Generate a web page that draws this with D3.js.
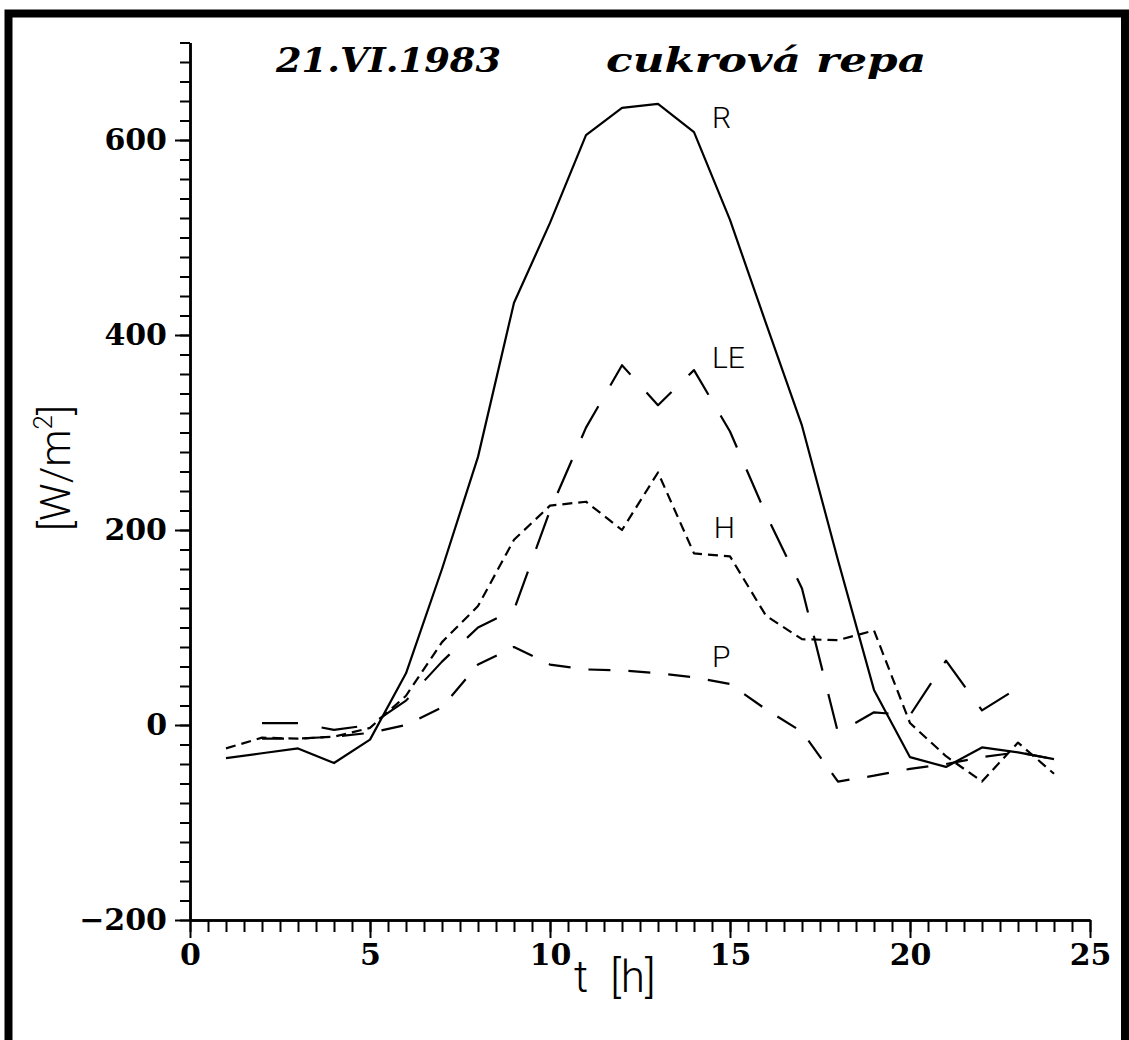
<!DOCTYPE html>
<html>
<head>
<meta charset="utf-8">
<script src="https://cdn.jsdelivr.net/npm/d3@7"></script>
<style>
  body { margin: 0; background: #fff; }
  .tick-label { font-family: "DejaVu Serif", serif; font-weight: bold; font-size: 30px; }
  .title { font-family: "DejaVu Serif", serif; font-weight: bold; font-style: italic; font-size: 34px; }
  .axis-label, .series-label { font-family: Roboto, "DejaVu Sans", sans-serif; font-weight: 300; }
</style>
</head>
<body>
<div id="chart"></div>
<script>
// hours 1..24
const hours = d3.range(1, 25);

// energy balance components [W/m2]
const R  = [-34, -29, -24, -39, -15, 53, 160, 275, 433, 515, 605, 633, 637, 608, 518, 412, 307, 169, 36, -33, -43, -23, -28, -35];
const LE = [null, 2, 2, -5, 0, 25, 65, 100, 118, 220, 305, 369, 328, 364, 301, 216, 140, -8, 13, 10, 66, 15, 38, null];
const H  = [-24, -13, -14, -12, -3, 30, 85, 122, 190, 225, 229, 200, 259, 176, 173, 112, 88, 87, 97, 2, -32, -58, -18, -50];
const P  = [null, -14, -14, -12, -8, 0, 18, 62, 80, 62, 57, 56, 53, 49, 42, 16, -7, -58, -52, -45, -40, -33, -28, -35];

const seriesNames = ["R", "LE", "H", "P"];
const seriesValues = [R, LE, H, P];
const seriesDash = [null, "36,24", "10,6", "22,18"];

// where the series names are written (t, value)
const labelT = [14.5, 14.5, 14.55, 14.5];
const labelV = [612, 366, 192, 59];

const yTickLabels = [-200, 0, 200, 400, 600];
const xTickLabels = [0, 5, 10, 15, 20, 25];

const width = 1129, height = 1040;

const svg = d3.select("#chart").append("svg")
    .attr("width", width)
    .attr("height", height);

svg.append("rect").attr("width", width).attr("height", height).attr("fill", "#fff");

// thick frame of the scanned page
svg.append("path")
    .attr("d", "M8.5,1040 V13.5 H1125 V1040")
    .attr("fill", "none")
    .attr("stroke", "#000")
    .attr("stroke-width", 8);

const x = d3.scaleLinear().domain([0, 25]).range([190, 1090]);
const y = d3.scaleLinear().domain([-200, 700]).range([920, 42.5]);

// y axis: minor ticks every 20, major (labelled) every 200
const yMinor = svg.append("g")
    .attr("transform", `translate(${x(0)},0)`)
    .call(d3.axisLeft(y).tickValues(d3.range(-200, 701, 20)).tickSize(10).tickSizeOuter(0).tickFormat(""));

const yMajor = svg.append("g")
    .attr("transform", `translate(${x(0)},0)`)
    .call(d3.axisLeft(y).tickValues(yTickLabels).tickSize(15).tickSizeOuter(0).tickPadding(8));

yMajor.selectAll("text").attr("class", "tick-label").attr("font-size", null).attr("font-family", null);

// x axis: minor ticks every half hour, major every 5 h
const xMinor = svg.append("g")
    .attr("transform", `translate(0,${y(-200)})`)
    .call(d3.axisBottom(x).tickValues(d3.range(0, 25.01, 0.5)).tickSize(12).tickSizeOuter(0).tickFormat(""));

const xMajor = svg.append("g")
    .attr("transform", `translate(0,${y(-200)})`)
    .call(d3.axisBottom(x).tickValues(xTickLabels).tickSize(18).tickSizeOuter(0).tickPadding(6));

xMajor.selectAll("text").attr("class", "tick-label").attr("font-size", null).attr("font-family", null);

[yMinor, yMajor, xMinor, xMajor].forEach(g => {
    g.selectAll("path.domain").attr("stroke", "#000").attr("stroke-width", 2.5);
    g.selectAll(".tick line").attr("stroke", "#000").attr("stroke-width", 2);
    g.selectAll("text").attr("fill", "#000");
});

// series lines
const line = d3.line()
    .defined(d => d.v !== null)
    .x(d => x(d.t))
    .y(d => y(d.v));

seriesValues.forEach((vals, i) => {
    const pts = hours.map((t, j) => ({ t: t, v: vals[j] }));
    svg.append("path")
        .datum(pts)
        .attr("fill", "none")
        .attr("stroke", "#000")
        .attr("stroke-width", 2.2)
        .attr("stroke-linejoin", "round")
        .attr("stroke-dasharray", seriesDash[i])
        .attr("d", line);

    svg.append("text")
        .attr("class", "series-label")
        .attr("x", x(labelT[i]))
        .attr("y", y(labelV[i]))
        .attr("font-size", 30)
        .text(seriesNames[i]);
});

// titles
svg.append("text")
    .attr("class", "title")
    .attr("x", 276)
    .attr("y", 72)
    .attr("textLength", 225)
    .attr("lengthAdjust", "spacingAndGlyphs")
    .text("21.VI.1983");

svg.append("text")
    .attr("class", "title")
    .attr("x", 606)
    .attr("y", 72)
    .attr("textLength", 320)
    .attr("lengthAdjust", "spacingAndGlyphs")
    .text("cukrová repa");

// axis titles
const xl = svg.append("text")
    .attr("class", "axis-label")
    .attr("x", 574)
    .attr("y", 992)
    .attr("font-size", 44);
xl.append("tspan").text("t");
xl.append("tspan").attr("dx", 22).text("[h]");

const yl = svg.append("text")
    .attr("class", "axis-label")
    .attr("transform", "translate(70,468) rotate(-90)")
    .attr("text-anchor", "middle")
    .attr("font-size", 42);
yl.append("tspan").text("[W/m");
yl.append("tspan").attr("font-size", 26).attr("dy", -18).text("2");
yl.append("tspan").attr("dy", 18).text("]");
</script>
</body>
</html>
